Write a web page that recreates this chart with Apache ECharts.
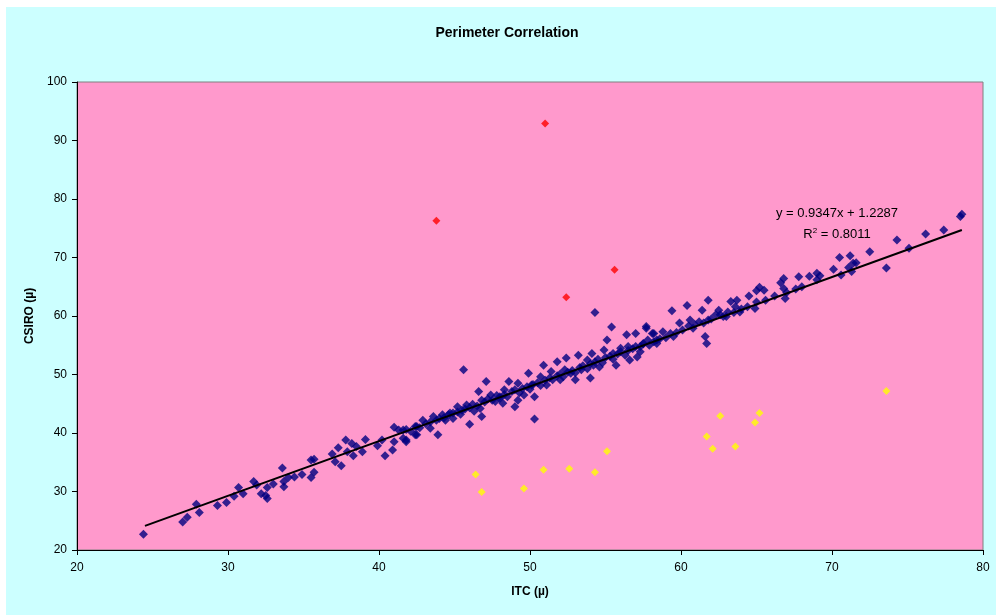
<!DOCTYPE html>
<html>
<head>
<meta charset="utf-8">
<script src="https://cdn.jsdelivr.net/npm/echarts@6/dist/echarts.min.js"></script>
<style>html,body{margin:0;padding:0;background:#fff}#c{width:996px;height:615px}</style>
</head>
<body>
<div id="c"></div>
<script>
// ---- data ----
var titleText = 'Perimeter Correlation';
var xName = 'ITC (µ)';
var yName = 'CSIRO (µ)';
var xTicks = [20, 30, 40, 50, 60, 70, 80];
var yTicks = [20, 30, 40, 50, 60, 70, 80, 90, 100];
var trendSlope = 0.9347;
var trendIntercept = 1.2287;
var trendRange = [24.5, 78.6];
var eqText = 'y = 0.9347x + 1.2287';
var r2Text = '0.8011';

var redPoints = [[43.8, 76.3], [51.0, 92.9], [55.6, 67.9], [52.4, 63.2]];

var yellowPoints = [
  [46.4, 32.9], [46.8, 29.9], [49.6, 30.5], [50.9, 33.7], [52.6, 33.9], [54.3, 33.3],
  [55.1, 36.9], [61.7, 39.4], [62.1, 37.3], [62.6, 42.9], [63.6, 37.7], [64.9, 41.8],
  [65.2, 43.4], [73.6, 47.2]
];

var bluePoints = [
  [24.4, 22.7], [27.0, 24.8], [27.3, 25.6], [27.9, 27.8], [28.1, 26.4], [29.3, 27.6],
  [29.9, 28.1], [30.4, 29.2], [30.7, 30.7], [31.0, 29.6], [31.7, 31.7], [31.9, 31.1],
  [32.2, 29.6], [32.5, 29.3], [32.6, 28.8], [32.6, 30.7], [33.0, 31.3], [33.6, 34.0],
  [33.7, 30.8], [33.7, 31.7], [34.0, 32.4], [34.4, 32.5], [34.9, 32.9], [35.5, 35.4],
  [35.7, 35.5], [35.5, 32.4], [35.7, 33.3], [36.9, 36.4], [37.1, 35.1], [37.3, 37.5],
  [37.5, 34.4], [37.8, 38.8], [37.9, 36.8], [38.2, 38.2], [38.3, 36.1], [38.5, 37.7],
  [38.9, 36.8], [39.1, 38.9], [39.9, 37.8], [40.2, 38.8], [40.4, 36.1], [40.9, 37.1],
  [41.0, 38.5], [41.0, 41.0], [41.3, 40.5], [41.6, 39.1], [41.8, 38.5], [41.8, 40.6],
  [42.4, 41.1], [42.5, 39.7],
  [41.6, 40.5], [41.8, 38.8], [42.4, 39.7], [42.5, 41.1], [42.9, 42.2], [43.4, 40.8],
  [43.6, 42.8], [43.9, 39.7], [44.2, 43.1], [44.4, 42.2], [44.7, 43.4], [44.9, 42.5],
  [45.2, 44.5], [45.5, 43.9], [45.6, 50.8], [45.8, 44.8], [46.0, 41.5], [46.3, 43.7],
  [46.6, 47.1], [46.8, 42.8], [46.8, 45.6], [47.1, 48.8], [47.4, 46.5], [47.7, 45.4],
  [48.0, 46.2], [48.2, 45.1], [48.3, 47.4], [48.6, 48.8], [49.0, 44.5], [49.2, 45.6],
  [49.2, 48.5], [49.6, 46.5], [49.9, 50.2], [50.1, 48.2], [50.3, 46.2], [50.3, 42.4],
  [50.7, 49.6], [50.9, 51.6], [51.1, 48.2], [51.4, 50.5], [51.8, 52.2], [52.0, 49.1],
  [52.3, 50.8], [52.4, 52.8], [52.7, 50.2], [53.0, 49.1], [53.2, 53.3], [53.4, 50.8],
  [53.8, 52.5], [54.0, 49.4], [54.1, 53.6], [54.2, 51.6], [54.3, 60.6], [54.6, 51.3],
  [54.9, 54.2], [55.1, 55.9], [55.4, 58.1], [55.5, 53.6], [55.7, 51.6], [56.0, 54.5],
  [56.4, 56.8], [56.5, 54.8], [56.6, 52.5], [57.0, 57.0], [57.1, 53.0], [57.3, 54.8],
  [57.7, 58.2], [57.8, 55.9], [58.2, 57.0], [58.4, 55.3],
  [57.5, 55.3], [57.7, 57.9], [58.1, 57.0], [58.4, 55.9], [58.8, 57.3], [59.4, 60.9],
  [59.5, 56.5], [59.9, 58.8], [60.4, 61.8], [60.6, 59.3], [60.8, 57.9], [61.4, 61.0],
  [61.6, 56.5], [61.7, 55.3], [61.8, 62.7], [61.8, 59.3], [62.3, 60.2], [62.5, 61.0],
  [62.8, 59.9], [63.1, 60.7], [63.3, 62.5], [63.6, 61.6], [63.7, 62.7], [63.9, 60.7],
  [64.5, 63.4], [64.9, 61.3], [65.0, 64.3], [65.2, 64.9], [65.5, 64.4], [66.6, 65.7],
  [66.8, 66.4], [66.8, 64.7], [66.9, 63.0], [67.6, 64.6], [67.8, 66.7], [68.5, 66.8],
  [69.0, 67.3], [69.2, 66.9], [70.1, 68.0], [70.5, 70.0], [70.6, 67.0], [71.1, 68.3],
  [71.2, 70.3], [71.4, 69.0], [71.6, 69.1], [71.3, 67.6], [72.5, 71.0], [73.6, 68.2],
  [74.3, 73.0], [75.1, 71.6], [76.2, 74.0], [77.4, 74.7], [78.5, 77.0], [78.6, 77.4],
  [42.1, 40.3], [42.7, 40.9], [43.1, 41.6], [43.4, 41.9], [43.8, 42.2], [44.0, 42.5],
  [44.3, 42.6], [44.6, 43.1], [44.9, 43.4], [45.2, 43.6], [45.4, 43.2], [45.7, 44.1],
  [46.0, 44.3], [46.2, 44.9], [46.5, 44.6], [46.7, 44.2], [47.0, 45.3], [47.2, 45.8],
  [47.5, 45.6], [47.8, 46.4], [48.0, 45.9], [48.3, 46.6], [48.5, 46.2], [48.8, 47.1],
  [49.0, 47.4], [49.3, 46.9], [49.5, 47.6], [49.8, 47.9], [50.0, 47.5], [50.2, 48.3],
  [50.5, 48.6], [50.7, 48.1], [51.0, 49.0], [51.3, 49.4], [51.5, 49.1], [51.8, 49.8],
  [52.0, 50.1], [52.2, 49.6], [52.5, 50.4], [52.8, 50.7], [53.0, 50.3], [53.3, 51.2],
  [53.5, 51.5], [53.8, 51.0], [54.0, 51.8], [54.3, 52.2], [54.5, 52.6], [54.8, 52.0],
  [55.0, 52.9], [55.3, 53.1], [55.5, 52.6], [55.8, 53.5], [56.0, 53.9], [56.3, 53.3],
  [56.5, 54.1], [56.8, 54.4], [57.0, 54.8], [57.3, 53.9], [57.5, 55.2], [57.9, 55.0],
  [58.2, 55.6], [58.6, 56.1], [59.0, 56.3], [59.3, 57.0], [59.7, 57.2], [60.1, 57.6],
  [60.5, 58.3], [60.9, 58.6], [61.2, 59.0], [61.5, 58.8], [62.0, 59.5], [62.6, 60.2],
  [63.0, 59.9], [63.5, 60.6], [64.0, 61.2], [64.4, 61.6], [65.0, 62.4], [65.6, 62.7],
  [66.2, 63.4], [67.0, 64.0], [68.0, 65.0], [69.0, 66.2]
];

// ---- chart ----
var trendData = trendRange.map(function (x) { return [x, trendSlope * x + trendIntercept]; });
var FONT = 'Liberation Sans, Arial, sans-serif';
var chart = echarts.init(document.getElementById('c'), null, { renderer: 'canvas' });
chart.setOption({
  animation: false,
  backgroundColor: '#CCFFFF',
  grid: {
    left: 77, right: 13, top: 82, bottom: 65, show: true,
    backgroundColor: '#FF99CC', borderColor: '#808080', borderWidth: 1
  },
  xAxis: {
    type: 'value', min: xTicks[0], max: xTicks[xTicks.length - 1], interval: 10,
    name: xName, nameLocation: 'middle', nameGap: 36,
    nameTextStyle: { fontFamily: FONT, fontSize: 12, fontWeight: 'bold', color: '#000' },
    axisLine: { lineStyle: { color: '#000', width: 1 } },
    axisTick: { show: true, length: 5, lineStyle: { color: '#000' } },
    axisLabel: { margin: 12, fontFamily: FONT, fontSize: 12, color: '#000' },
    splitLine: { show: false }
  },
  yAxis: {
    type: 'value', min: yTicks[0], max: yTicks[yTicks.length - 1], interval: 10,
    name: yName, nameLocation: 'middle', nameGap: 40,
    nameTextStyle: { fontFamily: FONT, fontSize: 12, fontWeight: 'bold', color: '#000' },
    axisLine: { show: true, lineStyle: { color: '#000', width: 1 } },
    axisTick: { show: true, length: 5, lineStyle: { color: '#000' } },
    axisLabel: { margin: 10, fontFamily: FONT, fontSize: 12, color: '#000' },
    splitLine: { show: false }
  },
  graphic: [
    { type: 'rect', shape: { x: 0, y: 0, width: 996, height: 7 }, style: { fill: '#fff' }, silent: true },
    { type: 'rect', shape: { x: 0, y: 0, width: 6, height: 615 }, style: { fill: '#fff' }, silent: true },
    { type: 'text', x: 507, y: 33, style: { text: titleText, font: 'bold 14px ' + FONT, fill: '#000', align: 'center', verticalAlign: 'middle' }, z: 100 },
    { type: 'text', x: 837, y: 213, style: { text: eqText, font: '13px ' + FONT, fill: '#000', align: 'center', verticalAlign: 'middle' }, z: 100 },
    { type: 'text', x: 837, y: 234, style: {
        text: '{a|R}{s|2}{a| = ' + r2Text + '}', align: 'center', verticalAlign: 'middle',
        rich: { a: { font: '13px ' + FONT, fill: '#000', verticalAlign: 'bottom' },
                s: { font: '8px ' + FONT, fill: '#000', padding: [0, 0, 6, 0], verticalAlign: 'top' } }
      }, z: 100 }
  ],
  series: [
    { type: 'scatter', data: bluePoints, symbol: 'diamond', symbolSize: 9,
      itemStyle: { color: '#000080' }, z: 2 },
    { type: 'scatter', data: redPoints, symbol: 'diamond', symbolSize: 8,
      itemStyle: { color: '#FF0000' }, z: 2 },
    { type: 'scatter', data: yellowPoints, symbol: 'diamond', symbolSize: 8,
      itemStyle: { color: '#FFFF00' }, z: 2 },
    { type: 'line', data: trendData, symbol: 'none', lineStyle: { color: '#000', width: 2 }, z: 3 }
  ]
});
</script>
</body>
</html>
